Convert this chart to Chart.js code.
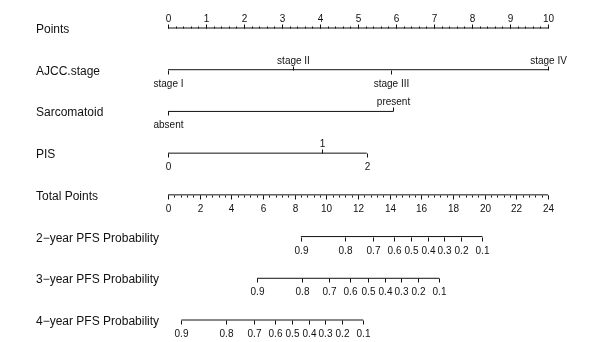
<!DOCTYPE html>
<html>
<head>
<meta charset="utf-8">
<script src="https://cdn.jsdelivr.net/npm/chart.js@4"></script>
<style>
  body { margin: 0; background: #fff; }
</style>
</head>
<body>
<canvas id="nomo" width="600" height="342"></canvas>
<script>
// row titles, top to bottom
let rowNames = ['Points', 'AJCC.stage', 'Sarcomatoid', 'PIS', 'Total Points',
    '2\u2212year PFS Probability', '3\u2212year PFS Probability', '4\u2212year PFS Probability'];

let pointsTicks = [0, 1, 2, 3, 4, 5, 6, 7, 8, 9, 10];

let stageLabels = ['stage I', 'stage II', 'stage III', 'stage IV'];
let stagePoints = [0, 3.30, 5.87, 10];

let sarcoLabels = ['absent', 'present'];
let sarcoPoints = [0, 5.93];

let pisLabels = ['0', '1', '2'];
let pisPoints = [0, 4.06, 5.23];

let totalTicks = [0, 2, 4, 6, 8, 10, 12, 14, 16, 18, 20, 22, 24];

let probLabels = ['0.9', '0.8', '0.7', '0.6', '0.5', '0.4', '0.3', '0.2', '0.1'];
let pfs2Total = [8.39, 11.18, 12.93, 14.26, 15.37, 16.41, 17.44, 18.53, 19.86];
let pfs3Total = [5.63, 8.44, 10.19, 11.51, 12.63, 13.73, 14.70, 15.80, 17.14];
let pfs4Total = [0.85, 3.65, 5.40, 6.73, 7.84, 8.92, 9.93, 11.01, 12.33];

// row setup: which x scale, tick values, labels, label side (1 = above, -1 = below)
let rows = [
    { axis: 'x', values: pointsTicks, labels: pointsTicks.map(String), side: pointsTicks.map(() => 1), minor: 0.2 },
    { axis: 'x', values: stagePoints, labels: stageLabels, side: [-1, 1, -1, 1] },
    { axis: 'x', values: sarcoPoints, labels: sarcoLabels, side: [-1, 1] },
    { axis: 'x', values: pisPoints, labels: pisLabels, side: [-1, 1, -1] },
    { axis: 'x2', values: totalTicks, labels: totalTicks.map(String), side: totalTicks.map(() => -1), minor: 0.4 },
    { axis: 'x2', values: pfs2Total, labels: probLabels, side: probLabels.map(() => -1) },
    { axis: 'x2', values: pfs3Total, labels: probLabels, side: probLabels.map(() => -1) },
    { axis: 'x2', values: pfs4Total, labels: probLabels, side: probLabels.map(() => -1) }
];

let font = '"Liberation Sans", Arial, sans-serif';

let nomogramPlugin = {
    id: 'nomogram',
    afterDatasetsDraw: function(chart) {
        let ctx = chart.ctx;
        let ys = chart.scales.y;
        ctx.save();
        ctx.strokeStyle = '#111';
        ctx.lineWidth = 1;
        ctx.fillStyle = '#111';

        rows.forEach(function(row, i) {
            let xs = chart.scales[row.axis];
            let y = Math.round(ys.getPixelForValue(i)) + 0.5;

            // row title
            ctx.font = '12px ' + font;
            ctx.textAlign = 'left';
            ctx.textBaseline = 'alphabetic';
            ctx.fillText(rowNames[i], 36, y + 4);

            // minor ticks
            if (row.minor) {
                let lo = Math.min.apply(null, row.values), hi = Math.max.apply(null, row.values);
                let dir = row.side[0];
                ctx.beginPath();
                for (let v = lo; v <= hi + 1e-6; v += row.minor) {
                    let x = Math.round(xs.getPixelForValue(v)) + 0.5;
                    ctx.moveTo(x, y);
                    ctx.lineTo(x, y - dir * 2);
                }
                ctx.stroke();
            }

            // major ticks and labels
            ctx.font = '10px ' + font;
            ctx.textAlign = 'center';
            row.values.forEach(function(v, j) {
                let x = Math.round(xs.getPixelForValue(v)) + 0.5;
                let dir = row.side[j];
                ctx.beginPath();
                ctx.moveTo(x, y);
                ctx.lineTo(x, y - dir * 4);
                ctx.stroke();
                ctx.fillText(row.labels[j], x, dir > 0 ? y - 7 : y + 16);
            });
        });
        ctx.restore();
    }
};

let datasets = rows.map(function(row, i) {
    return {
        label: rowNames[i],
        xAxisID: row.axis,
        data: [
            { x: Math.min.apply(null, row.values), y: i },
            { x: Math.max.apply(null, row.values), y: i }
        ],
        borderColor: '#111',
        borderWidth: 1,
        pointRadius: 0,
        showLine: true,
        clip: false
    };
});

let chart = new Chart(document.getElementById('nomo').getContext('2d'), {
    type: 'scatter',
    data: { datasets: datasets },
    options: {
        responsive: false,
        animation: false,
        events: [],
        layout: { padding: { left: 168, right: 52, top: 28, bottom: 22 } },
        plugins: { legend: { display: false }, tooltip: { enabled: false } },
        scales: {
            x: { type: 'linear', min: 0, max: 10, display: false },
            x2: { type: 'linear', min: 0, max: 24, display: false },
            y: { type: 'linear', min: 0, max: 7, reverse: true, display: false }
        }
    },
    plugins: [nomogramPlugin]
});
</script>
</body>
</html>
